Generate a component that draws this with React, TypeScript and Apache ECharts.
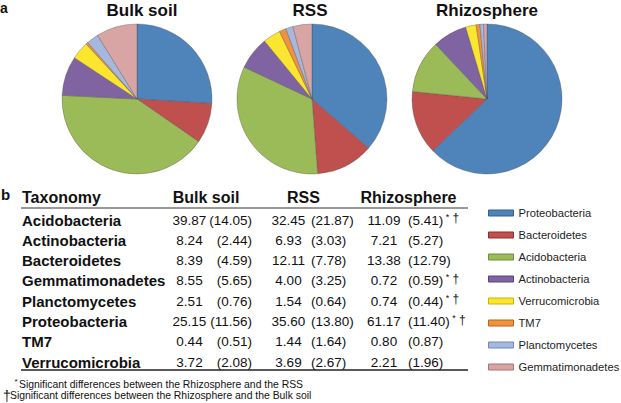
import React, { useEffect, useRef } from "react";
import * as echarts from "echarts";

const FONT = "'Liberation Sans', Arial, Helvetica, sans-serif";

const taxa = [
  "Acidobacteria",
  "Actinobacteria",
  "Bacteroidetes",
  "Gemmatimonadetes",
  "Planctomycetes",
  "Proteobacteria",
  "TM7",
  "Verrucomicrobia",
];
const bulkMean = [39.87, 8.24, 8.39, 8.55, 2.51, 25.15, 0.44, 3.72];
const bulkSd = [14.05, 2.44, 4.59, 5.65, 0.76, 11.56, 0.51, 2.08];
const rssMean = [32.45, 6.93, 12.11, 4.0, 1.54, 35.6, 1.44, 3.69];
const rssSd = [21.87, 3.03, 7.78, 3.25, 0.64, 13.8, 1.64, 2.67];
const rhizoMean = [11.09, 7.21, 13.38, 0.72, 0.74, 61.17, 0.8, 2.21];
const rhizoSd = [5.41, 5.27, 12.79, 0.59, 0.44, 11.4, 0.87, 1.96];
const rhizoSig = [true, false, false, true, true, true, false, false];

const pieOrder = [
  "Proteobacteria",
  "Bacteroidetes",
  "Acidobacteria",
  "Actinobacteria",
  "Verrucomicrobia",
  "TM7",
  "Planctomycetes",
  "Gemmatimonadetes",
];
const pieColors = ["#4F84BA", "#C0504D", "#9BBB59", "#8064A2", "#FBE52F", "#F0923E", "#A7B8DE", "#D9A4A4"];
const legendBorders = ["#2F5F95", "#8E2F2C", "#6F8C38", "#5A4279", "#C9B400", "#B8641C", "#7286B8", "#A97272"];

const groups = ["Bulk soil", "RSS", "Rhizosphere"];
const footnotes = [
  "Significant differences between the Rhizosphere and the RSS",
  "Significant differences between the Rhizosphere and the Bulk soil",
];

export default function App() {
  const ref = useRef<HTMLDivElement>(null);
  useEffect(() => {
    if (!ref.current) return;
    const chart = echarts.init(ref.current, null, { renderer: "svg" });
    const means = [bulkMean, rssMean, rhizoMean];
    const centers = [137, 312, 487];
    const titleX = [142, 310, 487];

    const series = means.map((m, gi) => ({
      type: "pie",
      name: groups[gi],
      center: [centers[gi], 99],
      radius: 75,
      startAngle: 90,
      clockwise: true,
      avoidLabelOverlap: false,
      label: { show: false },
      labelLine: { show: false },
      emphasis: { disabled: true },
      itemStyle: { borderColor: "rgba(70,70,70,0.55)", borderWidth: 0.6 },
      data: pieOrder.map((name, i) => ({
        name,
        value: m[taxa.indexOf(name)],
        itemStyle: { color: pieColors[i] },
      })),
    }));

    const txt = (x: number, y: number, text: string, opts: any = {}) => ({
      type: "text",
      silent: true,
      style: {
        x,
        y,
        text,
        fontFamily: FONT,
        fontSize: opts.size ?? 13.5,
        fontWeight: opts.bold ? "bold" : "normal",
        fill: opts.color ?? "#111",
        align: opts.align ?? "left",
        verticalAlign: "middle",
        textAlign: opts.align ?? "left",
        textVerticalAlign: "middle",
        ...(opts.rich ? { rich: opts.rich } : {}),
      },
    });

    const graphic: any[] = [];
    // panel letters
    graphic.push(txt(0, 8, "a", { bold: true, size: 14 }));
    graphic.push(txt(1, 194, "b", { bold: true, size: 15 }));
    // pie titles
    groups.forEach((g, gi) => {
      graphic.push(txt(titleX[gi], 10, g, { bold: true, size: 17, align: "center" }));
    });
    // table header
    const headY = 197;
    graphic.push(txt(22, headY, "Taxonomy", { bold: true, size: 16 }));
    const headX = [206, 303.5, 408.5];
    groups.forEach((g, gi) => graphic.push(txt(headX[gi], headY, g, { bold: true, size: 16, align: "center" })));
    graphic.push({ type: "line", silent: true, shape: { x1: 21, y1: 208, x2: 468, y2: 208 }, style: { stroke: "#333", lineWidth: 1.2 } });
    graphic.push({ type: "line", silent: true, shape: { x1: 21, y1: 370, x2: 468, y2: 370 }, style: { stroke: "#222", lineWidth: 1.6 } });

    const meanX = [189.5, 288.5, 384];
    taxa.forEach((t, i) => {
      const y = 220 + i * 20.3;
      graphic.push(txt(22, y, t, { bold: true, size: 15 }));
      graphic.push(txt(meanX[0], y, bulkMean[i].toFixed(2), { align: "center" }));
      graphic.push(txt(252, y, "(" + bulkSd[i].toFixed(2) + ")", { align: "right" }));
      graphic.push(txt(meanX[1], y, rssMean[i].toFixed(2), { align: "center" }));
      graphic.push(txt(311, y, "(" + rssSd[i].toFixed(2) + ")"));
      graphic.push(txt(meanX[2], y, rhizoMean[i].toFixed(2), { align: "center" }));
      if (rhizoSig[i]) {
        graphic.push(
          txt(408, y, "{v|(" + rhizoSd[i].toFixed(2) + ")}{s| *}{d| †}", {
            rich: {
              v: { fontSize: 13.5, fontFamily: FONT, fill: "#111", lineHeight: 16 },
              s: { fontSize: 9, fontFamily: FONT, fill: "#111", verticalAlign: "top", lineHeight: 10 },
              d: { fontSize: 12, fontFamily: FONT, fill: "#111", verticalAlign: "top", lineHeight: 14 },
            },
          })
        );
      } else {
        graphic.push(txt(408, y, "(" + rhizoSd[i].toFixed(2) + ")"));
      }
    });

    // footnotes
    graphic.push(txt(14.5, 381, "*", { size: 8 }));
    graphic.push(txt(19, 384, footnotes[0], { size: 10.4 }));
    graphic.push(txt(3, 396, "†", { size: 14 }));
    graphic.push(txt(10, 395, footnotes[1], { size: 10.4 }));

    chart.setOption({
      animation: false,
      backgroundColor: "#ffffff",
      legend: {
        orient: "vertical",
        left: 483,
        top: 202,
        itemWidth: 25,
        itemHeight: 6,
        itemGap: 10,
        icon: "rect",
        selectedMode: false,
        textStyle: { fontFamily: FONT, fontSize: 11.2, color: "#222", lineHeight: 12 },
        data: pieOrder.map((name, i) => ({
          name,
          itemStyle: { color: pieColors[i], borderColor: legendBorders[i], borderWidth: 1 },
        })),
      },
      series,
      graphic,
    } as any);
    return () => chart.dispose();
  }, []);

  return (
    <div
      ref={ref}
      style={{ position: "absolute", left: 0, top: 0, width: 621, height: 403, background: "#fff" }}
    />
  );
}
